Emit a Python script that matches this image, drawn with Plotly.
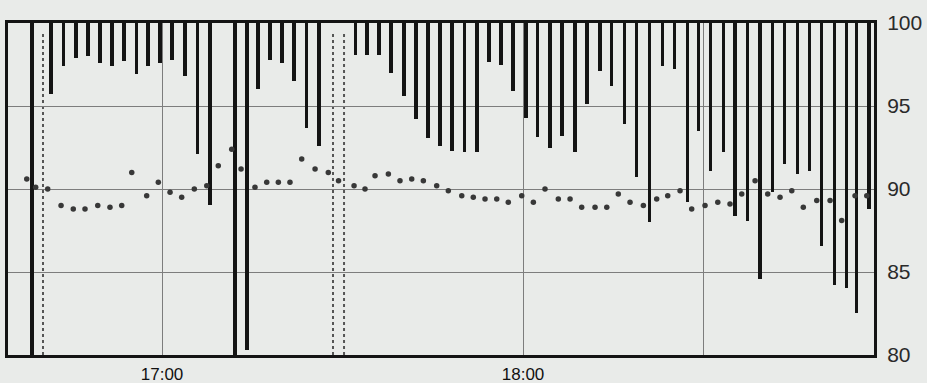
import plotly.graph_objects as go

DAY = "2020-01-01 "

# SpO2 desaturation bars (time, lowest value; bar hangs from 100)
bar_times = [
    "16:38:24", "16:41:33", "16:43:40", "16:45:42", "16:47:42", "16:49:42", "16:51:41",
    "16:53:41", "16:55:46", "16:57:40", "16:59:40", "17:01:40", "17:03:49", "17:05:56",
    "17:07:59", "17:12:08", "17:14:08", "17:15:57", "17:17:57", "17:19:57", "17:21:56",
    "17:24:03", "17:26:06", "17:32:10", "17:34:04", "17:36:04", "17:38:04", "17:40:13",
    "17:42:13", "17:44:13", "17:46:12", "17:48:12", "17:50:17", "17:52:21", "17:54:21",
    "17:56:21", "17:58:20", "18:00:30", "18:02:25", "18:04:29", "18:06:29", "18:08:39",
    "18:10:38", "18:12:48", "18:14:45", "18:16:50", "18:18:54", "18:21:00", "18:23:09",
    "18:25:09", "18:27:18", "18:29:08", "18:31:12", "18:33:17", "18:35:14", "18:37:21",
    "18:39:23", "18:41:26", "18:43:26", "18:45:39", "18:47:35", "18:49:39", "18:51:44",
    "18:53:48", "18:55:28", "18:57:30",
]
bar_values = [
    80.0, 95.7, 97.4, 97.9, 98.0, 97.6, 97.4,
    97.7, 96.9, 97.4, 97.6, 97.8, 96.8, 92.1,
    89.05, 80.0, 80.3, 96.0, 97.8, 97.6, 96.5,
    93.7, 92.6, 98.05, 98.1, 98.05, 97.0, 95.6,
    94.2, 93.1, 92.6, 92.3, 92.2, 92.2, 97.65,
    97.5, 95.9, 94.3, 93.15, 92.5, 93.2, 92.2,
    95.1, 97.1, 96.2, 93.9, 90.7, 88.0, 97.4,
    97.2, 89.2, 93.5, 91.1, 92.2, 88.4, 88.1,
    84.55, 89.8, 91.5, 90.9, 91.1, 86.55, 84.2,
    84.05, 82.55, 88.8,
]

# dotted trend points
dot_times = [
    "16:37:31", "16:39:00", "16:41:00", "16:43:13", "16:45:15", "16:47:12", "16:49:19",
    "16:51:21", "16:53:18", "16:54:58", "16:57:27", "16:59:23", "17:01:20", "17:03:16",
    "17:05:22", "17:07:26", "17:09:21", "17:11:35", "17:13:08", "17:15:27", "17:17:24",
    "17:19:20", "17:21:16", "17:23:13", "17:25:26", "17:27:38", "17:29:20", "17:31:55",
    "17:33:44", "17:35:24", "17:37:37", "17:39:33", "17:41:30", "17:43:26", "17:45:39",
    "17:47:35", "17:49:49", "17:51:44", "17:53:41", "17:55:38", "17:57:33", "17:59:47",
    "18:01:43", "18:03:39", "18:05:52", "18:07:49", "18:09:45", "18:11:58", "18:13:55",
    "18:15:50", "18:17:47", "18:20:00", "18:22:13", "18:24:03", "18:26:06", "18:28:02",
    "18:30:15", "18:32:22", "18:34:24", "18:36:21", "18:38:34", "18:40:40", "18:42:43",
    "18:44:40", "18:46:35", "18:48:49", "18:51:02", "18:52:58", "18:55:11", "18:57:08",
]
dot_values = [
    90.6, 90.1, 90.0, 89.0, 88.8, 88.8, 89.0,
    88.9, 89.0, 91.0, 89.6, 90.4, 89.8, 89.5,
    90.0, 90.2, 91.4, 92.4, 91.2, 90.1, 90.4,
    90.4, 90.4, 91.8, 91.2, 91.0, 90.5, 90.2,
    90.0, 90.8, 90.9, 90.5, 90.6, 90.5, 90.2,
    89.9, 89.6, 89.5, 89.4, 89.4, 89.2, 89.6,
    89.2, 90.0, 89.4, 89.4, 88.9, 88.9, 88.9,
    89.7, 89.2, 89.0, 89.4, 89.6, 89.9, 88.8,
    89.0, 89.2, 89.1, 89.7, 90.5, 89.7, 89.5,
    89.9, 88.9, 89.3, 89.3, 88.1, 89.6, 89.6,
]

event_times = ["16:40:13", "17:28:25", "17:30:15"]

x_tick_times = ["17:00", "18:00", "18:30"]
x_tick_text = ["17:00", "18:00", ""]
y_ticks = [80, 85, 90, 95, 100]
x_range = ["16:34:24", "18:58:20"]
y_range = [80, 100]
TOP = 100

bg = "#e9ebe9"
ink = "#141414"

fig = go.Figure()

fig.add_trace(go.Bar(
    x=[DAY + t for t in bar_times],
    y=[TOP - v for v in bar_values],
    base=bar_values,
    width=33000,
    marker=dict(color=ink, line=dict(width=0)),
    showlegend=False,
    hoverinfo="skip",
))

fig.add_trace(go.Scatter(
    x=[DAY + t for t in dot_times],
    y=dot_values,
    mode="markers",
    marker=dict(color="#383838", size=5.5, symbol="circle"),
    showlegend=False,
    hoverinfo="skip",
))

for t in event_times:
    fig.add_shape(
        type="line", xref="x", yref="y",
        x0=DAY + t, x1=DAY + t, y0=y_range[0], y1=99.4,
        line=dict(color="#555555", width=2, dash="dot"),
        layer="below",
    )

fig.update_layout(
    width=927, height=383,
    margin=dict(l=8, r=53, t=23, b=28),
    paper_bgcolor=bg, plot_bgcolor=bg,
    bargap=0,
    font=dict(family="Liberation Sans, Arial, sans-serif", color="#262626"),
    xaxis=dict(
        type="date",
        range=[DAY + x_range[0], DAY + x_range[1]],
        tickvals=[DAY + t for t in x_tick_times],
        ticktext=x_tick_text,
        tickfont=dict(size=17, color="#111111"),
        ticklabelstandoff=2,
        automargin=False,
        showgrid=True, gridcolor="#7d7d7d", gridwidth=1,
        showline=True, linecolor=ink, linewidth=3, mirror=True,
        ticks="", zeroline=False,
    ),
    yaxis=dict(
        range=y_range,
        side="right",
        tickvals=y_ticks,
        tickfont=dict(size=21, color="#2a2a2a"),
        automargin=False,
        showgrid=True, gridcolor="#7d7d7d", gridwidth=1,
        showline=True, linecolor=ink, linewidth=3, mirror=True,
        ticks="", ticklabelstandoff=6, zeroline=False,
    ),
)

fig.write_html("out.html")
